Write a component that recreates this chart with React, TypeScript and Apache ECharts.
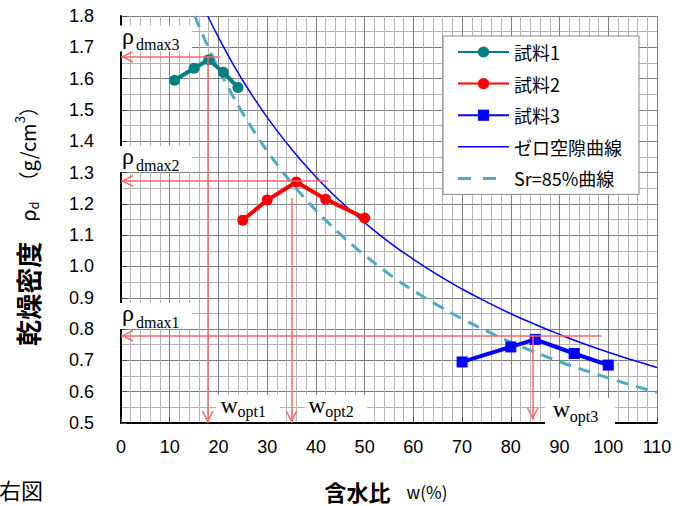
import React, { useEffect, useRef } from 'react';
import * as echarts from 'echarts';

// ---- data ----
const sample1W = [11, 15, 18, 21, 24];
const sample1Rho = [1.595, 1.633, 1.66, 1.62, 1.572];
const sample2W = [25, 30, 36, 42, 50];
const sample2Rho = [1.148, 1.212, 1.27, 1.215, 1.155];
const sample3W = [70, 80, 85, 93, 100];
const sample3Rho = [0.695, 0.743, 0.767, 0.722, 0.685];

const zeroW = [17.8, 20, 22.5, 25, 27.5, 30, 32.5, 35, 37.5, 40, 42.5, 45, 47.5, 50, 55, 60, 65, 70, 75, 80, 85, 90, 95, 100, 105, 110];
const zeroRho = [1.8, 1.732, 1.66, 1.594, 1.533, 1.476, 1.424, 1.375, 1.329, 1.286, 1.246, 1.209, 1.173, 1.14, 1.078, 1.023, 0.973, 0.928, 0.887, 0.849, 0.815, 0.783, 0.753, 0.726, 0.701, 0.677];

const sr85W = [15.15, 17.5, 20, 22.5, 25, 27.5, 30, 32.5, 35, 37.5, 40, 42.5, 45, 47.5, 50, 55, 60, 65, 70, 75, 80, 85, 90, 95, 100, 105, 110];
const sr85Rho = [1.8, 1.7145, 1.632, 1.5575, 1.489, 1.4268, 1.369, 1.3163, 1.267, 1.2217, 1.179, 1.1398, 1.103, 1.0682, 1.036, 0.976, 0.923, 0.876, 0.833, 0.794, 0.758, 0.726, 0.696, 0.669, 0.644, 0.62, 0.598];

// annotation arrows: horizontal (rho max) and vertical (w opt)
const rhoMaxLevels = [1.67, 1.273, 0.779];
const rhoMaxLineEndW = [20.3, 42.4, 98.6];
const wOptValues = [17.8, 35.0, 84.5];
const wOptLineTopRho = [1.67, 1.218, 0.779];
const wOptLineBottomRho = [0.5, 0.5, 0.51];

const legendNames = ['試料1', '試料2', '試料3', 'ゼロ空隙曲線', 'Sr=85%曲線'];

const pairs = (xs: number[], ys: number[]) => xs.map((x, i) => [x, ys[i]]);

const CHEVRON = 'path://M6,12 L12,24 L10.4,24 L6,15.2 L1.6,24 L0,24 Z M6,0 L6.02,0 L6,0.02 Z';
const SOLID_ICON = 'path://M0,0 L0.02,0 L0,0.02 Z M0,6.2 L51,6.2 L51,7.8 L0,7.8 Z M51,14 L50.98,14 L51,13.98 Z';
const DASH_ICON = 'path://M0,0 L0.02,0 L0,0.02 Z M0,5.5 L13,5.5 L13,8.5 L0,8.5 Z M25,5.5 L38,5.5 L38,8.5 L25,8.5 Z M51,14 L50.98,14 L51,13.98 Z';
const RED = '#ff6464';
const SERIF = 'Liberation Serif';
const CJK = 'Noto Sans CJK JP';

export default function App() {
  const ref = useRef<HTMLDivElement>(null);
  useEffect(() => {
    if (!ref.current) return;
    const chart = echarts.init(ref.current, null, { renderer: 'svg' });

    const markData: any[] = [];
    rhoMaxLevels.forEach((r, i) => {
      markData.push([
        { coord: [0, r], symbol: CHEVRON, symbolSize: [12, 24] },
        { coord: [rhoMaxLineEndW[i], r], symbol: 'none' },
      ]);
    });
    wOptValues.forEach((w, i) => {
      markData.push([
        { coord: [w, wOptLineTopRho[i]], symbol: 'none' },
        { coord: [w, wOptLineBottomRho[i]], symbol: CHEVRON, symbolSize: [12, 24] },
      ]);
    });

    const rhoLabel = (yRho: number, ySub: number, sub: string) => [
      { type: 'rect', z: 100, shape: { x: 120, y: yRho - 10, width: 72, height: 26 }, style: { fill: '#fff' } },
      { type: 'text', z: 101, x: 122, y: yRho, style: { text: 'ρ', font: `24px "${SERIF}"`, fill: '#000', align: 'left', verticalAlign: 'middle' } },
      { type: 'text', z: 101, x: 136, y: ySub, style: { text: sub, font: `16px "${SERIF}"`, fill: '#000', align: 'left', verticalAlign: 'middle' } },
    ];
    const wLabel = (x: number, yW: number, ySub: number, sub: string, boxX: number, boxY: number, boxW: number, boxH: number) => [
      { type: 'rect', z: 100, shape: { x: boxX, y: boxY, width: boxW, height: boxH }, style: { fill: '#fff' } },
      { type: 'text', z: 101, x: x, y: yW, style: { text: 'w', font: `24px "${SERIF}"`, fill: '#000', align: 'left', verticalAlign: 'middle' } },
      { type: 'text', z: 101, x: x + 17, y: ySub, style: { text: sub, font: `16px "${SERIF}"`, fill: '#000', align: 'left', verticalAlign: 'middle' } },
    ];

    chart.setOption({
      animation: false,
      backgroundColor: '#fff',
      grid: { left: 121, top: 16, right: 27, bottom: 83 },
      legend: {
        data: [
          { name: legendNames[0] },
          { name: legendNames[1] },
          { name: legendNames[2] },
          { name: legendNames[3], icon: SOLID_ICON, itemStyle: { borderWidth: 0 } },
          { name: legendNames[4], icon: DASH_ICON, itemStyle: { borderWidth: 0 } },
        ],
        orient: 'vertical',
        left: 443,
        top: 36,
        padding: [6, 17, 6, 14],
        itemWidth: 51,
        itemHeight: 14,
        itemGap: 11.6,
        backgroundColor: '#fff',
        borderColor: '#888',
        borderWidth: 1,
        textStyle: { fontFamily: CJK, fontSize: 18, color: '#000', lineHeight: 20 },
        z: 20,
      },
      xAxis: {
        type: 'value', min: 0, max: 110, interval: 10,
        axisLine: { show: true, onZero: false, lineStyle: { color: '#000', width: 2 } },
        axisTick: { show: true, inside: true, length: 6, lineStyle: { color: '#444' } },
        axisLabel: { fontFamily: 'Liberation Sans', fontSize: 18, color: '#000', margin: 15 },
        splitLine: { show: true, lineStyle: { color: '#7f7f7f', width: 1 } },
        minorTick: { show: false, splitNumber: 5 },
        minorSplitLine: { show: true, lineStyle: { color: '#b4b4b4', width: 1 } },
      },
      yAxis: {
        type: 'value', min: 0.5, max: 1.8, interval: 0.1,
        axisLine: { show: true, onZero: false, lineStyle: { color: '#000', width: 2 } },
        axisTick: { show: true, inside: true, length: 6, lineStyle: { color: '#444' } },
        axisLabel: { fontFamily: 'Liberation Sans', fontSize: 18, color: '#000', margin: 27, padding: [5, 0, 0, 0], formatter: (v: number) => v.toFixed(1) },
        splitLine: { show: true, lineStyle: { color: '#7f7f7f', width: 1 } },
        minorTick: { show: false, splitNumber: 2 },
        minorSplitLine: { show: true, lineStyle: { color: '#b4b4b4', width: 1 } },
      },
      series: [
        {
          name: 'ゼロ空隙曲線', type: 'line', data: pairs(zeroW, zeroRho), smooth: true, symbol: 'none', z: 2,
          lineStyle: { color: '#0000ff', width: 1.5 }, itemStyle: { color: '#0000ff' },
        },
        {
          name: 'Sr=85%曲線', type: 'line', data: pairs(sr85W, sr85Rho), smooth: true, symbol: 'none', z: 2,
          lineStyle: { color: '#4bacc6', width: 3, type: [12, 8] }, itemStyle: { color: '#4bacc6' },
        },
        {
          name: '試料1', type: 'line', data: pairs(sample1W, sample1Rho), symbol: 'circle', symbolSize: 11, z: 3,
          lineStyle: { color: '#008080', width: 4 }, itemStyle: { color: '#008080' },
        },
        {
          name: '試料2', type: 'line', data: pairs(sample2W, sample2Rho), symbol: 'circle', symbolSize: 11, z: 3,
          lineStyle: { color: '#ff0000', width: 4 }, itemStyle: { color: '#ff0000' },
        },
        {
          name: '試料3', type: 'line', data: pairs(sample3W, sample3Rho), symbol: 'rect', symbolSize: 11, z: 3,
          lineStyle: { color: '#0000ff', width: 4 }, itemStyle: { color: '#0000ff' },
        },
        {
          name: 'annot', type: 'line', data: [], symbol: 'none', z: 5,
          markLine: {
            silent: true, animation: false,
            label: { show: false },
            lineStyle: { color: RED, width: 1.5, type: 'solid' },
            itemStyle: { color: RED },
            emphasis: { disabled: true },
            data: markData,
          },
        },
      ],
      graphic: [
        ...rhoLabel(35.5, 44.7, 'dmax3'),
        ...rhoLabel(156, 165.7, 'dmax2'),
        ...rhoLabel(313, 322.7, 'dmax1'),
        ...wLabel(220.5, 405.3, 411.2, 'opt1', 216, 395, 64, 27),
        ...wLabel(308.3, 405.3, 411.2, 'opt2', 305, 395, 62, 27),
        ...wLabel(552.7, 408.7, 416, 'opt3', 545, 398, 70, 29),
        {
          type: 'text', z: 101, x: 24, y: 221, rotation: Math.PI / 2,
          style: {
            text: '{a|乾燥密度}{b|　ρ}{c|d}{b|　（g/cm}{e|3}{b|）}',
            align: 'center', verticalAlign: 'middle', fill: '#000',
            rich: {
              a: { fontFamily: CJK, fontSize: 26, fontWeight: 'bold', lineHeight: 32, verticalAlign: 'bottom', padding: [0, 0, 0, 0] },
              b: { fontFamily: CJK, fontSize: 20, lineHeight: 32, verticalAlign: 'bottom', padding: [0, 0, 3, 0] },
              c: { fontFamily: CJK, fontSize: 13, lineHeight: 32, verticalAlign: 'bottom', padding: [0, 0, 0, 0] },
              e: { fontFamily: CJK, fontSize: 13, lineHeight: 32, verticalAlign: 'bottom', padding: [0, 0, 14, 0] },
            },
          },
        },
        {
          type: 'text', z: 101, x: 386, y: 490,
          style: {
            text: '{a|含水比}{b|w(%)}',
            align: 'center', verticalAlign: 'middle', fill: '#000',
            rich: {
              a: { fontFamily: CJK, fontSize: 22, fontWeight: 'bold', lineHeight: 24, verticalAlign: 'bottom' },
              b: { fontFamily: CJK, fontSize: 17, lineHeight: 24, verticalAlign: 'bottom', padding: [0, 0, 2, 16] },
            },
          },
        },
        {
          type: 'text', z: 101, x: -1, y: 489,
          style: { text: '右図', font: `22px "${CJK}"`, fill: '#000', align: 'left', verticalAlign: 'middle' },
        },
      ],
    });
    return () => chart.dispose();
  }, []);
  return <div ref={ref} style={{ position: 'fixed', left: 0, top: 0, width: 684, height: 506 }} />;
}
